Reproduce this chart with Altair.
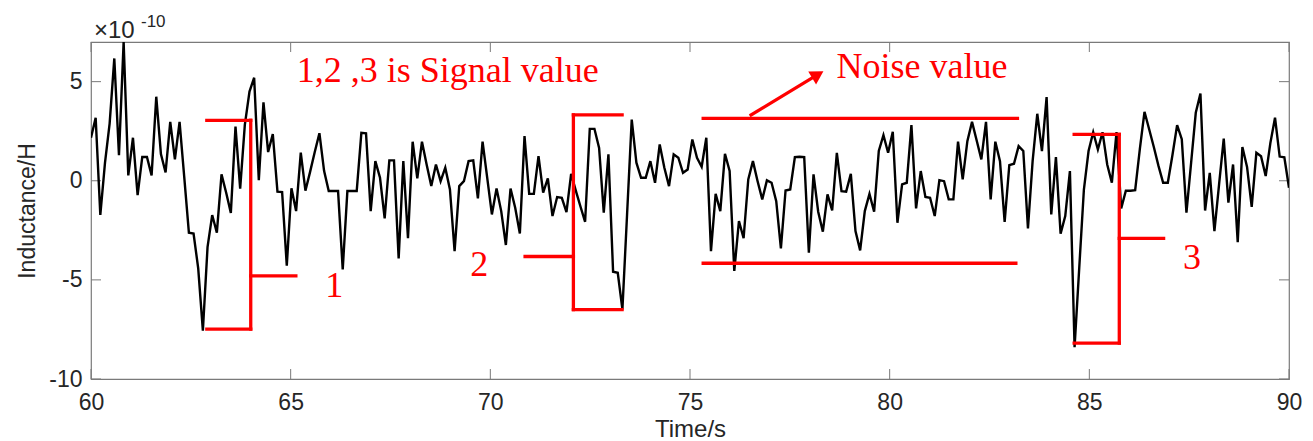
import altair as alt
import pandas as pd
import numpy as np

# ---------------- data (values in units of 1e-10 H) ----------------
T_START = 60.0
T_END = 90.0
inductance = [
    2.17, 3.18, -1.72, 0.9, 2.9, 6.17, 1.29, 7.0, 0.27, 2.17,
    -0.72, 1.2, 1.2, 0.27, 4.24, 1.35, 0.42, 2.97, 1.08, 2.97,
    0.2, -2.62, -2.66, -4.42, -7.56, -3.35, -1.73, -2.62, 0.32, -0.6,
    -1.62, 2.73, -0.4, 2.82, 4.5, 5.2, 0.03, 3.96, 1.45, 2.36,
    -0.55, -0.57, -4.28, -0.38, -1.53, 1.42, -0.5, 0.45, 1.45, 2.4,
    0.5, -0.52, -0.52, -0.52, -4.47, -0.52, -0.52, -0.52, 2.42, 2.39,
    -1.53, 0.99, 0.15, -1.9, 1.03, 1.03, -3.92, 0.99, -2.9, 1.97,
    0.12, 1.97, 0.82, -0.27, 0.82, -0.02, 0.66, -0.44, -3.55, -0.27,
    -0.02, 0.99, 1.03, -0.89, 1.97, 0.15, -1.7, -0.39, -1.53, -3.24,
    -0.39, -1.36, -2.66, 2.25, -0.66, -0.66, 1.24, -0.6, 0.12, -1.78,
    -0.82, -0.86, -1.58, 0.35, -0.5, -1.3, -2.07, 2.62, 2.62, 1.66,
    -1.61, 1.33, -4.59, -4.64, -6.49, -1.7, 3.09, 0.91, 0.15, 0.15,
    0.99, -0.1, 1.83, 0.66, -0.27, 1.33, 1.16, 0.4, 0.57, 2.08,
    1.16, 0.71, 2.17, -3.55, -0.66, -1.53, 1.36, 0.49, -4.55, -2.03,
    -2.9, 0.07, 0.99, -0.02, -0.94, 0.02, -0.1, -1.03, -3.41, -0.49,
    -0.44, 1.19, 1.21, 1.19, -3.63, 0.32, -1.56, -2.57, -0.69, -1.5,
    1.41, -0.52, -0.55, 0.35, -2.54, -3.51, -1.53, -0.66, -1.56, 1.5,
    2.3, 1.41, 2.47, -2.12, -0.18, -0.1, 2.81, -1.39, 0.49, -0.82,
    -0.86, -1.78, 0.03, -0.02, -0.94, -0.94, 1.97, 0.07, 2.0, 2.97,
    2.03, 1.08, 2.97, -0.94, 1.97, 0.99, -2.07, 0.79, 0.86, 1.75,
    1.5, -2.4, 0.99, 3.38, 1.5, 4.22, -1.7, 1.19, -2.67, -1.78,
    0.49, -8.4, -4.4, -0.44, 1.5, 2.45, 1.58, 2.45, 0.82, -0.1,
    2.45, -1.4, -0.5, -0.5, -0.47, 1.6, 3.48, 2.6, 1.7, 0.75,
    -0.1, -0.1, 1.3, 2.81, 2.1, -1.61, 0.9, 3.43, 4.4, -1.5,
    0.4, -2.54, -0.18, 2.13, -1.1, 0.82, -3.1, 1.7, 0.7, -1.32,
    1.41, 1.24, 0.24, 1.9, 3.18, 1.22, 1.18, -0.35,
]
# evenly spaced sample times across the 60-90 s window
time_s = np.linspace(T_START, T_END, len(inductance))

x_ticks = [60, 65, 70, 75, 80, 85, 90]
y_ticks = [-10, -5, 0, 5]

# red annotation segments (data coordinates)
seg_x = [62.90, 64.00, 62.90, 64.00, 72.08, 72.08, 72.08, 70.87, 75.33, 75.33, 84.62, 85.75, 84.62, 85.75, 76.53]
seg_x2 = [64.00, 64.00, 64.00, 65.13, 73.30, 72.08, 73.30, 72.08, 83.20, 83.16, 85.75, 85.75, 85.75, 86.86, 78.15]
seg_y = [3.05, 3.05, -7.48, -4.80, 3.32, 3.32, -6.50, -3.82, 3.15, -4.16, 2.34, 2.34, -8.19, -2.91, 3.32]
seg_y2 = [3.05, -7.48, -7.48, -4.80, 3.32, -6.50, -6.50, -3.82, 3.15, -4.16, 2.34, -8.19, -8.19, -2.91, 5.30]

arrow_head_x = [78.2]
arrow_head_y = [5.36]

label_text = ["1,2 ,3 is Signal value", "Noise value"]
label_x = [65.15, 78.67]
label_y = [4.96, 5.2]

num_text = ["1", "2", "3"]
num_x = [66.09, 69.72, 87.57]
num_y = [-5.87, -4.8, -4.46]

# ---------------- chart ----------------
W, H = 1198, 337
RED = "#ff0000"
GRAY = "#7a7a7a"
TXT = "#262626"
xs = alt.Scale(domain=[60, 90], nice=False, zero=False)
ys = alt.Scale(domain=[-10, 7], nice=False, zero=False)

df = pd.DataFrame({"t": time_s, "L": inductance})
line = alt.Chart(df).mark_line(color="black", strokeWidth=2.4, clip=True).encode(
    x=alt.X("t:Q", scale=xs, axis=alt.Axis(
        title="Time/s", values=x_ticks, labelExpr="'' + datum.value",
        ticks=False, tickSize=0, domain=False, grid=False, labelFlush=False,
        labelOverlap=False, labelPadding=12, labelFontSize=23, labelColor=TXT,
        labelFont="Liberation Sans", titleFont="Liberation Sans", titleFontSize=24,
        titleFontWeight="normal", titleColor=TXT, titlePadding=3)),
    y=alt.Y("L:Q", scale=ys, axis=alt.Axis(
        title="Inductance/H", values=y_ticks, labelExpr="'' + datum.value",
        ticks=False, tickSize=0, domain=False, grid=False, labelFlush=False,
        labelOverlap=False, labelPadding=9, labelFontSize=23, labelColor=TXT,
        labelFont="Liberation Sans", titleFont="Liberation Sans", titleFontSize=23,
        titleFontWeight="normal", titleColor=TXT, titlePadding=9)),
)

segdf = pd.DataFrame({"x": seg_x, "x2": seg_x2, "y": seg_y, "y2": seg_y2})
segs = alt.Chart(segdf).mark_rule(color=RED, strokeWidth=3.3, strokeCap="square").encode(
    x=alt.X("x:Q", scale=xs), x2="x2:Q", y=alt.Y("y:Q", scale=ys), y2="y2:Q")

head = alt.Chart(pd.DataFrame({"x": arrow_head_x, "y": arrow_head_y})).mark_point(
    shape="triangle-up", filled=True, color=RED, opacity=1, size=230, angle=59).encode(
    x=alt.X("x:Q", scale=xs), y=alt.Y("y:Q", scale=ys))

labels = alt.Chart(pd.DataFrame({"x": label_x, "y": label_y, "s": label_text})).mark_text(
    align="left", baseline="alphabetic", font="Liberation Serif", fontSize=36, color=RED).encode(
    x=alt.X("x:Q", scale=xs), y=alt.Y("y:Q", scale=ys), text="s:N")

nums = alt.Chart(pd.DataFrame({"x": num_x, "y": num_y, "s": num_text})).mark_text(
    align="center", baseline="alphabetic", font="Liberation Serif", fontSize=36, color=RED).encode(
    x=alt.X("x:Q", scale=xs), y=alt.Y("y:Q", scale=ys), text="s:N")

# inside ticks (MATLAB style) on all four sides
xt = pd.DataFrame({"v": x_ticks})
yt = pd.DataFrame({"v": y_ticks})
xb = alt.Chart(xt).mark_rule(color=GRAY, strokeWidth=1).encode(
    x=alt.X("v:Q", scale=xs), y=alt.value(H), y2=alt.value(H - 10))
xtop = alt.Chart(xt).mark_rule(color=GRAY, strokeWidth=1).encode(
    x=alt.X("v:Q", scale=xs), y=alt.value(0), y2=alt.value(10))
yl = alt.Chart(yt).mark_rule(color=GRAY, strokeWidth=1).encode(
    y=alt.Y("v:Q", scale=ys), x=alt.value(0), x2=alt.value(10))
yr = alt.Chart(yt).mark_rule(color=GRAY, strokeWidth=1).encode(
    y=alt.Y("v:Q", scale=ys), x=alt.value(W), x2=alt.value(W - 10))

exp_base = alt.Chart(pd.DataFrame({"s": ["\u00d710"]})).mark_text(
    align="left", baseline="alphabetic", font="Liberation Sans", fontSize=24, color=TXT).encode(
    x=alt.value(3), y=alt.value(-4), text="s:N")
exp_sup = alt.Chart(pd.DataFrame({"s": ["-10"]})).mark_text(
    align="left", baseline="alphabetic", font="Liberation Sans", fontSize=17, color=TXT).encode(
    x=alt.value(50), y=alt.value(-15), text="s:N")

chart = alt.layer(xb, xtop, yl, yr, line, segs, head, labels, nums, exp_base, exp_sup).properties(
    width=W, height=H,
    autosize=alt.AutoSizeParams(type="none"),
    padding={"left": 83, "top": 34, "right": 16, "bottom": 62},
    background="white",
).configure_view(stroke=GRAY, strokeWidth=1.2)

chart.save("out.html", embed_options={"renderer": "svg", "actions": False})
